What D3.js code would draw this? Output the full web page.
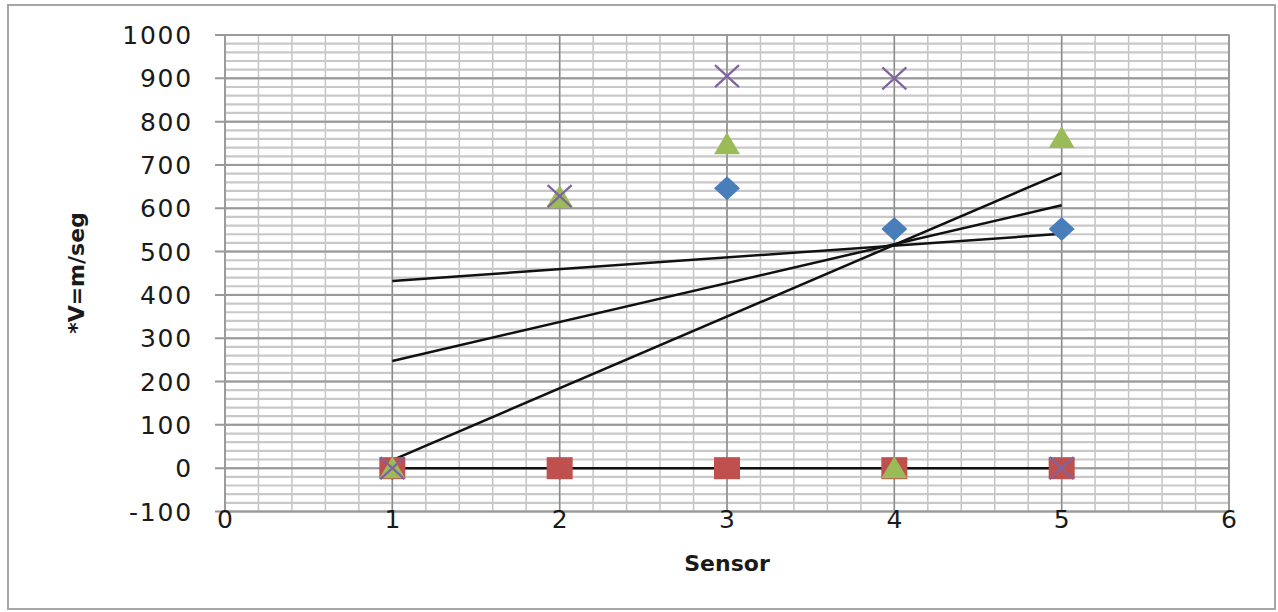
<!DOCTYPE html>
<html>
<head>
<meta charset="utf-8">
<script src="https://cdn.jsdelivr.net/npm/d3@7/dist/d3.min.js"></script>
<style>
  body { margin: 0; background: #fff; }
  svg text { font-family: "DejaVu Sans", sans-serif; fill: #1a1a1a; }
</style>
</head>
<body>
<div id="chart"></div>
<script>
// sensor velocity scatter, with linear trendlines

var sensors = [1, 2, 3, 4, 5];
var serieBlue = [0, 0, 646, 552, 552];
var serieRed = [0, 0, 0, 0, 0];
var serieGreen = [0, 626, 748, 0, 762];
var seriePurple = [0, 628, 905, 900, 0];
var xTicks = [0, 1, 2, 3, 4, 5, 6];
var yTicks = [-100, 0, 100, 200, 300, 400, 500, 600, 700, 800, 900, 1000];
var xTitle = "Sensor";
var yTitle = "*V=m/seg";

var width = 1278, height = 612;
var plot = { left: 225, right: 1229, top: 35, bottom: 511.5 };

var svg = d3.select("#chart").append("svg")
    .attr("width", width)
    .attr("height", height);

svg.append("rect")
    .attr("x", 8).attr("y", 5)
    .attr("width", 1267).attr("height", 604)
    .attr("fill", "#fff")
    .attr("stroke", "#a6a6a6")
    .attr("stroke-width", 2);

var x = d3.scaleLinear().domain([0, 6]).range([plot.left, plot.right]);
var y = d3.scaleLinear().domain([-100, 1000]).range([plot.bottom, plot.top]);

// minor grid
var g = svg.append("g");
g.selectAll(".vminor")
    .data(d3.range(0, 6.01, 0.2))
    .enter().append("line")
    .attr("x1", function(d){ return x(d); })
    .attr("x2", function(d){ return x(d); })
    .attr("y1", plot.top).attr("y2", plot.bottom)
    .attr("stroke", "#c4c4c4").attr("stroke-width", 1.5);
g.selectAll(".hminor")
    .data(d3.range(-100, 1000.1, 20))
    .enter().append("line")
    .attr("x1", plot.left).attr("x2", plot.right)
    .attr("y1", function(d){ return y(d); })
    .attr("y2", function(d){ return y(d); })
    .attr("stroke", "#c8c8c8").attr("stroke-width", 2.2);

// major grid
g.selectAll(".vmajor")
    .data(xTicks)
    .enter().append("line")
    .attr("x1", function(d){ return x(d); })
    .attr("x2", function(d){ return x(d); })
    .attr("y1", plot.top).attr("y2", plot.bottom)
    .attr("stroke", "#8c8c8c").attr("stroke-width", 1.5);
g.selectAll(".hmajor")
    .data(yTicks)
    .enter().append("line")
    .attr("x1", plot.left - 10).attr("x2", plot.right)
    .attr("y1", function(d){ return y(d); })
    .attr("y2", function(d){ return y(d); })
    .attr("stroke", "#999").attr("stroke-width", 2);

svg.append("rect")
    .attr("x", plot.left).attr("y", plot.top)
    .attr("width", plot.right - plot.left).attr("height", plot.bottom - plot.top)
    .attr("fill", "none").attr("stroke", "#9a9a9a").attr("stroke-width", 1.5);

// axis labels
svg.selectAll(".ylab")
    .data(yTicks)
    .enter().append("text")
    .attr("x", 193)
    .attr("y", function(d){ return y(d); })
    .attr("dy", "0.36em")
    .attr("text-anchor", "end")
    .attr("font-size", 25)
    .attr("letter-spacing", 1.8)
    .text(function(d){ return d; });

svg.selectAll(".xlab")
    .data(xTicks)
    .enter().append("text")
    .attr("x", function(d){ return x(d); })
    .attr("y", 528)
    .attr("text-anchor", "middle")
    .attr("font-size", 25)
    .text(function(d){ return d; });

svg.append("text")
    .attr("x", 727).attr("y", 571)
    .attr("text-anchor", "middle")
    .attr("font-size", 22)
    .attr("font-weight", "bold")
    .text(xTitle);

svg.append("text")
    .attr("transform", "translate(84,273) rotate(-90)")
    .attr("text-anchor", "middle")
    .attr("font-size", 22)
    .attr("font-weight", "bold")
    .text(yTitle);

// trendlines (least squares over each series)
function fit(vals){
    var mx = d3.mean(sensors), my = d3.mean(vals);
    var sxy = d3.sum(sensors, function(s, i){ return (s - mx) * (vals[i] - my); });
    var sxx = d3.sum(sensors, function(s){ return (s - mx) * (s - mx); });
    var b = sxy / sxx;
    return function(s){ return my + b * (s - mx); };
}
var series = [serieBlue, serieRed, serieGreen, seriePurple];
var xmin = d3.min(sensors), xmax = d3.max(sensors);
series.forEach(function(vals){
    var f = fit(vals);
    svg.append("line")
        .attr("x1", x(xmin)).attr("y1", y(f(xmin)))
        .attr("x2", x(xmax)).attr("y2", y(f(xmax)))
        .attr("stroke", "#111").attr("stroke-width", 2.5);
});

// markers
var pts = svg.append("g");
pts.selectAll(".blue")
    .data(sensors)
    .enter().append("path")
    .attr("d", function(s, i){
        var cx = x(s), cy = y(serieBlue[i]);
        return "M" + (cx - 13) + "," + cy + "L" + cx + "," + (cy - 12) +
               "L" + (cx + 13) + "," + cy + "L" + cx + "," + (cy + 12) + "Z";
    })
    .attr("fill", "#4a7ebb");

pts.selectAll(".red")
    .data(sensors)
    .enter().append("rect")
    .attr("x", function(s){ return x(s) - 13; })
    .attr("y", function(s, i){ return y(serieRed[i]) - 11; })
    .attr("width", 26).attr("height", 22)
    .attr("fill", "#c0504d");

pts.selectAll(".green")
    .data(sensors)
    .enter().append("path")
    .attr("d", function(s, i){
        var cx = x(s), cy = y(serieGreen[i]);
        return "M" + (cx - 13) + "," + (cy + 10) + "L" + cx + "," + (cy - 12) +
               "L" + (cx + 13) + "," + (cy + 10) + "Z";
    })
    .attr("fill", "#9bbb59");

pts.selectAll(".purple")
    .data(sensors)
    .enter().append("path")
    .attr("d", function(s, i){
        var cx = x(s), cy = y(seriePurple[i]);
        return "M" + (cx - 12) + "," + (cy - 11) + "L" + (cx + 12) + "," + (cy + 11) +
               "M" + (cx - 12) + "," + (cy + 11) + "L" + (cx + 12) + "," + (cy - 11);
    })
    .attr("fill", "none")
    .attr("stroke", "#8064a2")
    .attr("stroke-width", 2.2);
</script>
</body>
</html>
